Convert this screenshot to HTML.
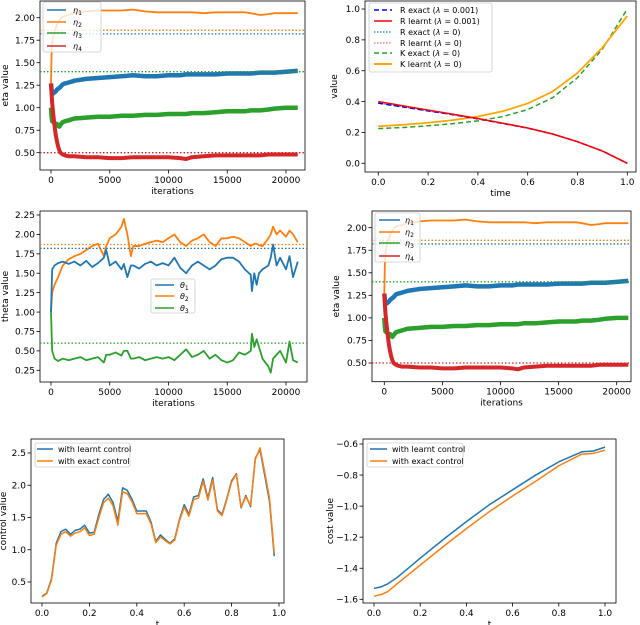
<!DOCTYPE html>
<html><head><meta charset="utf-8"><style>
body{margin:0;background:#fff}
svg{display:block;font-family:"DejaVu Sans","Liberation Sans",sans-serif}
</style></head><body>
<svg id="fig" width="640" height="625" viewBox="0 0 640 625"></svg>
<script>
// ---- data ----
const etaIter=[0,50,100,200,300,400,500,600,700,800,1000,1200,1500,2000,3000,4000,5000,6000,7000,8000,9000,10000,11000,11500,12000,13000,14000,15000,16000,16500,17000,17800,18500,19000,20000,21000];
const eta1=[1.27,1.2,1.15,1.16,1.17,1.18,1.2,1.21,1.22,1.23,1.26,1.27,1.28,1.3,1.32,1.33,1.34,1.35,1.36,1.35,1.35,1.36,1.36,1.37,1.37,1.37,1.37,1.38,1.38,1.38,1.38,1.39,1.39,1.39,1.40,1.41];
const eta2=[1.27,1.6,1.72,1.8,1.85,1.88,1.92,1.95,1.97,1.99,2.01,2.02,2.03,2.05,2.07,2.08,2.08,2.08,2.09,2.07,2.06,2.06,2.06,2.06,2.06,2.05,2.06,2.06,2.06,2.06,2.05,2.03,2.04,2.05,2.05,2.05];
const eta3=[1.0,0.9,0.85,0.84,0.83,0.82,0.82,0.8,0.79,0.81,0.84,0.85,0.86,0.88,0.89,0.9,0.9,0.91,0.91,0.92,0.92,0.93,0.93,0.93,0.94,0.94,0.95,0.96,0.96,0.96,0.97,0.97,0.98,0.99,1.0,1.0];
const eta4=[1.27,1.15,1.05,0.92,0.8,0.7,0.63,0.57,0.53,0.5,0.48,0.47,0.46,0.46,0.45,0.45,0.44,0.44,0.45,0.45,0.45,0.45,0.44,0.43,0.45,0.46,0.47,0.47,0.47,0.47,0.47,0.47,0.48,0.48,0.48,0.48];
const etaExact=[1.82,1.86,1.40,0.50];
const etaTicksY=[0.5,0.75,1.0,1.25,1.5,1.75,2.0];
const iterTicks=[0,5000,10000,15000,20000];

const thIter=[0,100,300,600,1000,1500,2000,2500,3000,3500,4000,4500,4700,5000,5500,6000,6200,6500,6800,7000,7500,8000,8500,9000,9500,10000,10500,11000,11500,12000,12500,13000,13500,14000,14500,15000,15500,16000,16500,17000,17100,17300,17500,17700,18000,18500,18700,18900,19200,19500,20000,20300,20600,21000];
const th1=[1.0,1.55,1.6,1.63,1.65,1.62,1.65,1.6,1.66,1.58,1.63,1.7,1.8,1.6,1.65,1.55,1.62,1.45,1.6,1.6,1.56,1.62,1.65,1.6,1.63,1.6,1.7,1.57,1.5,1.6,1.65,1.6,1.55,1.6,1.68,1.7,1.7,1.65,1.55,1.48,1.27,1.5,1.35,1.5,1.55,1.6,1.7,1.87,1.6,1.7,1.55,1.72,1.45,1.65];
const th2=[1.0,1.25,1.35,1.45,1.6,1.68,1.72,1.75,1.8,1.85,1.88,1.72,1.85,1.95,2.0,2.1,2.2,2.0,1.72,1.85,1.85,1.88,1.9,1.92,1.9,1.95,2.0,1.9,1.85,1.92,1.95,2.0,1.9,1.85,1.95,1.95,1.97,1.95,1.9,1.85,1.86,1.88,1.88,1.86,1.85,1.95,2.0,2.1,2.0,2.05,1.97,2.05,2.0,1.9];
const th3=[1.0,0.5,0.4,0.37,0.4,0.38,0.4,0.42,0.38,0.4,0.42,0.35,0.45,0.45,0.48,0.44,0.5,0.5,0.4,0.4,0.42,0.38,0.4,0.42,0.4,0.42,0.38,0.45,0.52,0.42,0.45,0.5,0.4,0.45,0.38,0.35,0.38,0.48,0.45,0.5,0.72,0.55,0.65,0.55,0.4,0.3,0.22,0.4,0.45,0.5,0.35,0.62,0.38,0.35];
const thExact=[1.82,1.87,0.60];
const thTicksY=[0.25,0.5,0.75,1.0,1.25,1.5,1.75,2.0,2.25];

const timeT=[0,0.1,0.2,0.3,0.4,0.5,0.6,0.7,0.8,0.9,1.0];
const rExact=[0.39,0.365,0.34,0.315,0.288,0.258,0.228,0.19,0.14,0.08,0.0];
const rLearnt=[0.40,0.372,0.345,0.318,0.29,0.26,0.229,0.19,0.14,0.079,0.0];
const kExact=[0.225,0.232,0.243,0.257,0.275,0.303,0.348,0.425,0.555,0.74,1.0];
const kLearnt=[0.24,0.25,0.263,0.28,0.303,0.337,0.388,0.465,0.585,0.75,0.955];
const valTicksY=[0,0.2,0.4,0.6,0.8,1.0];
const timeTicks=[0,0.2,0.4,0.6,0.8,1.0];

const ctrlT=[0,.02,.04,.06,.08,.10,.12,.14,.16,.18,.20,.22,.24,.26,.28,.30,.32,.34,.36,.38,.40,.42,.44,.46,.48,.50,.52,.54,.56,.58,.60,.62,.64,.66,.68,.70,.72,.74,.76,.78,.80,.82,.84,.86,.88,.90,.92,.94,.96,.98];
const ctrlLearnt=[0.28,0.33,0.55,1.1,1.28,1.32,1.24,1.3,1.32,1.38,1.26,1.27,1.55,1.78,1.86,1.73,1.44,1.96,1.92,1.78,1.60,1.60,1.60,1.43,1.13,1.23,1.16,1.10,1.17,1.47,1.70,1.55,1.82,1.84,2.10,1.80,2.12,1.62,1.55,1.80,2.07,2.18,1.65,1.84,1.67,2.42,2.55,2.15,1.75,0.90];
const ctrlExact=[0.27,0.32,0.53,1.07,1.24,1.28,1.21,1.26,1.28,1.34,1.22,1.24,1.5,1.73,1.80,1.68,1.38,1.90,1.87,1.74,1.56,1.56,1.56,1.40,1.11,1.20,1.14,1.09,1.15,1.45,1.66,1.52,1.78,1.80,2.06,1.77,2.08,1.60,1.53,1.78,2.05,2.17,1.66,1.82,1.69,2.40,2.58,2.20,1.80,0.95];
const ctrlTicksY=[0.5,1.0,1.5,2.0,2.5];
const tTicks=[0,0.2,0.4,0.6,0.8,1.0];

const costT=[0,0.03,0.06,0.1,0.2,0.3,0.4,0.5,0.6,0.7,0.8,0.9,0.95,1.0];
const costLearnt=[-1.53,-1.52,-1.50,-1.46,-1.335,-1.215,-1.10,-0.99,-0.895,-0.80,-0.715,-0.65,-0.645,-0.62];
const costExact=[-1.58,-1.57,-1.55,-1.50,-1.38,-1.26,-1.145,-1.035,-0.935,-0.84,-0.74,-0.665,-0.66,-0.64];
const costTicksY=[-1.6,-1.4,-1.2,-1.0,-0.8,-0.6];

// ---- helpers ----
const NS="http://www.w3.org/2000/svg";
const fig=document.getElementById('fig');
function mk(tag,attrs,parent){const e=document.createElementNS(NS,tag);for(const k in attrs)e.setAttribute(k,attrs[k]);(parent||fig).appendChild(e);return e;}
const C={blue:'#1f77b4',orange:'#ff7f0e',green:'#2ca02c',red:'#d62728'};
function scale(d0,d1,r0,r1){return v=>r0+(v-d0)*(r1-r0)/(d1-d0);}

function axes(name,f,sx,sy,xt,yt,xfmt,yfmt,xlabel,ylabel,ylx){
  const g=mk('g',{});
  
  
  const fr=mk('rect',{x:f.x0,y:f.y0,width:f.x1-f.x0,height:f.y1-f.y0,fill:'none',stroke:'#000','stroke-width':0.8},g);
  
  
  xt.forEach(v=>{const x=sx(v);
    mk('line',{x1:x,x2:x,y1:f.y1,y2:f.y1+3.5,stroke:'#000','stroke-width':0.8},g);
    const t=mk('text',{x:x,y:f.y1+13,'font-size':9,'text-anchor':'middle'},g);t.textContent=xfmt(v);
    
    });
  yt.forEach(v=>{const y=sy(v);
    mk('line',{x1:f.x0-3.5,x2:f.x0,y1:y,y2:y,stroke:'#000','stroke-width':0.8},g);
    const t=mk('text',{x:f.x0-5,y:y+3.2,'font-size':9,'text-anchor':'end'},g);t.textContent=yfmt(v);
    
    });
  const xl=mk('text',{x:(f.x0+f.x1)/2,y:f.y1+24,'font-size':9,'text-anchor':'middle'},g);xl.textContent=xlabel;
  
  
  const yc=(f.y0+f.y1)/2;
  const yl=mk('text',{x:ylx,y:yc,'font-size':9,'text-anchor':'middle',transform:`rotate(-90 ${ylx} ${yc})`},g);yl.textContent=ylabel;
  
  
  return g;
}
function clipFor(id,f){const cp=mk('clipPath',{id:id});mk('rect',{x:f.x0,y:f.y0,width:f.x1-f.x0,height:f.y1-f.y0},cp);return 'url(#'+id+')';}
function line(name,xs,ys,sx,sy,stroke,w,dash,clip){
  const d=xs.map((x,i)=>(i?'L':'M')+sx(x).toFixed(2)+','+sy(ys[i]).toFixed(2)).join('');
  const p=mk('path',{d:d,fill:'none',stroke:stroke,'stroke-width':w,'stroke-linejoin':'round','clip-path':clip||''});
  if(dash)p.setAttribute('stroke-dasharray',dash);
  
  
  return p;
}
function hline(name,f,sy,v,stroke){
  const l=mk('line',{x1:f.x0,x2:f.x1,y1:sy(v),y2:sy(v),stroke:stroke,'stroke-width':1.3,'stroke-dasharray':'1.5,2'});
  
  
}
function legend(name,box,entries,lx0,lx1,tx){
  const g=mk('g',{});
  
  
  mk('rect',{x:box.x,y:box.y,width:box.w,height:box.h,rx:2,fill:'#fff','fill-opacity':0.8,stroke:'#ccc','stroke-width':0.8},g);
  entries.forEach(e=>{
    const l=mk('line',{x1:lx0,x2:lx1,y1:e.y,y2:e.y,stroke:e.c,'stroke-width':e.w||1.5},g);
    if(e.dash)l.setAttribute('stroke-dasharray',e.dash);
    const t=mk('text',{x:tx,y:e.y+3,'font-size':e.fs||8},g);
    t.innerHTML=e.label;
    
    
  });
}
const intf=v=>String(v), f2=v=>v.toFixed(2), f1=v=>v.toFixed(1), fneg=v=>(v<0?'\u2212':'')+Math.abs(v).toFixed(1);

// ---- panel 1: eta ----
function etaPanel(name,f,sx,sy,ylx,leg){
  axes(name,f,sx,sy,iterTicks,etaTicksY,intf,f2,'iterations','eta value',ylx);
  const cl=clipFor(name+'-clip',f);
  line(name+'-eta1',etaIter,eta1,sx,sy,C.blue,4.5,null,cl);
  line(name+'-eta2',etaIter,eta2,sx,sy,C.orange,1.8,null,cl);
  line(name+'-eta3',etaIter,eta3,sx,sy,C.green,4.5,null,cl);
  line(name+'-eta4',etaIter,eta4,sx,sy,C.red,4,null,cl);
  hline(name+'-eta2-exact',f,sy,etaExact[1],C.orange);
  hline(name+'-eta1-exact',f,sy,etaExact[0],C.blue);
  hline(name+'-eta3-exact',f,sy,etaExact[2],C.green);
  hline(name+'-eta4-exact',f,sy,etaExact[3],C.red);
  legend(name+'-legend',leg.box,[
    {y:leg.ys[0],c:C.blue,label:'<tspan font-style="italic">η</tspan><tspan font-size="6" dy="2">1</tspan>'},
    {y:leg.ys[1],c:C.orange,label:'<tspan font-style="italic">η</tspan><tspan font-size="6" dy="2">2</tspan>'},
    {y:leg.ys[2],c:C.green,label:'<tspan font-style="italic">η</tspan><tspan font-size="6" dy="2">3</tspan>'},
    {y:leg.ys[3],c:C.red,label:'<tspan font-style="italic">η</tspan><tspan font-size="6" dy="2">4</tspan>'}],leg.lx0,leg.lx1,leg.tx);
}
{const f={x0:40,x1:305,y0:1,y1:170};
 etaPanel('eta-panel-top',f,scale(0,20000,51,286),scale(2,0.5,17.7,152.7),8,
 {box:{x:43,y:2,w:58,h:50},ys:[10,22,33,46],lx0:47,lx1:66,tx:73});}
{const f={x0:372,x1:631,y0:211,y1:381.7};
 etaPanel('eta-panel-mid',f,scale(0,20000,384.3,616.7),scale(2,0.5,227.7,363),339,
 {box:{x:375,y:213,w:45,h:49},ys:[220,232,243,256],lx0:379,lx1:400,tx:405});}

// ---- panel 2: R/K ----
{const f={x0:365,x1:636,y0:1,y1:172};
 const sx=scale(0,1,378.3,627.3), sy=scale(0,1,163.3,9);
 axes('rk-panel',f,sx,sy,timeTicks,valTicksY,f1,f1,'time','value',337);
 line('k-exact-line',timeT,kExact,sx,sy,C.green,1.5,'5,3');
 line('k-learnt-line',timeT,kLearnt,sx,sy,'orange',1.8);
 line('r-exact-lam0-line',timeT,rExact,sx,sy,'#1f9bd8',1.3,'1.5,1.5');
 line('r-exact-line',timeT,rExact,sx,sy,'blue',1.5,'5,3');
 line('r-learnt-lam0-line',timeT,rLearnt,sx,sy,'#f08080',1.3,'1.5,1.5');
 line('r-learnt-line',timeT,rLearnt,sx,sy,'red',1.5);
 const lam='<tspan font-style="italic">λ</tspan>';
 legend('rk-legend',{x:369,y:3,w:123,h:69},[
  {y:10,c:'blue',dash:'5,3',label:'R exact ('+lam+' = 0.001)'},
  {y:21,c:'red',label:'R learnt ('+lam+' = 0.001)'},
  {y:32,c:'#1f9bd8',dash:'1.5,1.5',label:'R exact ('+lam+' = 0)'},
  {y:43,c:'#f08080',dash:'1.5,1.5',label:'R learnt ('+lam+' = 0)'},
  {y:53,c:C.green,dash:'5,3',label:'K exact ('+lam+' = 0)'},
  {y:64,c:'orange',w:2,label:'K learnt ('+lam+' = 0)'}],374,392,400);}

// ---- panel 3: theta ----
{const f={x0:40,x1:307,y0:211,y1:382};
 const sx=scale(0,20000,51,286), sy=scale(2.25,0.25,215,370.3);
 axes('theta-panel',f,sx,sy,iterTicks,thTicksY,intf,f2,'iterations','theta value',8);
 line('theta2-line',thIter,th2,sx,sy,C.orange,1.8);
 line('theta1-line',thIter,th1,sx,sy,C.blue,1.8);
 line('theta3-line',thIter,th3,sx,sy,C.green,1.8);
 hline('theta2-exact',f,sy,thExact[1],C.orange);
 hline('theta1-exact',f,sy,thExact[0],C.blue);
 hline('theta3-exact',f,sy,thExact[2],C.green);
 legend('theta-legend',{x:151,y:279,w:44,h:34},[
  {y:285,c:C.blue,label:'<tspan font-style="italic">θ</tspan><tspan font-size="6" dy="2">1</tspan>'},
  {y:296,c:C.orange,label:'<tspan font-style="italic">θ</tspan><tspan font-size="6" dy="2">2</tspan>'},
  {y:308,c:C.green,label:'<tspan font-style="italic">θ</tspan><tspan font-size="6" dy="2">3</tspan>'}],155,174,180);}

// ---- panel 5: control ----
{const f={x0:31,x1:284,y0:439,y1:603};
 const sx=scale(0,1,42,279), sy=scale(2.5,0.5,453,582);
 axes('control-panel',f,sx,sy,tTicks,ctrlTicksY,f1,f1,'t','control value',6);
 line('control-learnt-line',ctrlT,ctrlLearnt,sx,sy,C.blue,1.5);
 line('control-exact-line',ctrlT,ctrlExact,sx,sy,C.orange,1.5);
 legend('control-legend',{x:35,y:443,w:95,h:24},[
  {y:449,c:C.blue,label:'with learnt control'},
  {y:461,c:C.orange,label:'with exact control'}],37,53,58);}

// ---- panel 6: cost ----
{const f={x0:363,x1:616,y0:439,y1:603};
 const sx=scale(0,1,374,605), sy=scale(-0.6,-1.6,444,599.3);
 axes('cost-panel',f,sx,sy,tTicks,costTicksY,f1,fneg,'t','cost value',333);
 line('cost-learnt-line',costT,costLearnt,sx,sy,C.blue,1.5);
 line('cost-exact-line',costT,costExact,sx,sy,C.orange,1.5);
 legend('cost-legend',{x:367,y:443,w:96,h:24},[
  {y:449,c:C.blue,label:'with learnt control'},
  {y:461,c:C.orange,label:'with exact control'}],370,387,392);}
</script>
</body></html>
